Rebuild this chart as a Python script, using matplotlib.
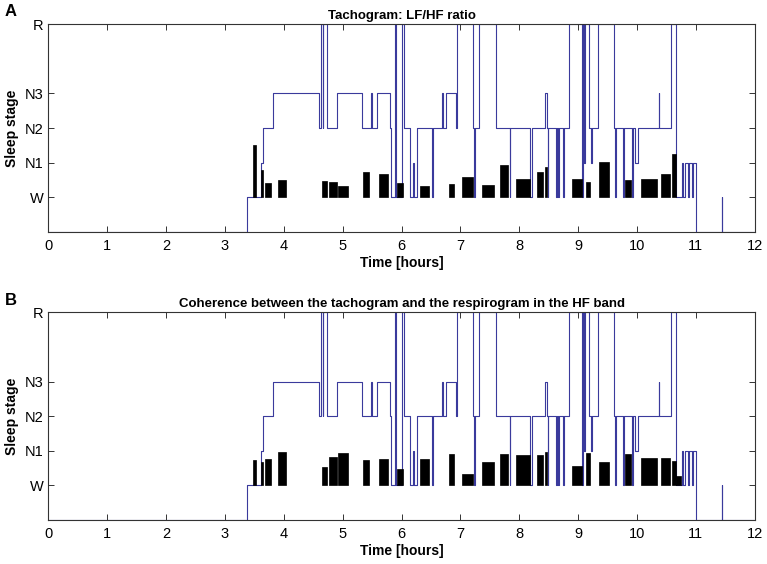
import matplotlib
matplotlib.use("Agg")
import matplotlib.pyplot as plt

plt.rcParams['font.family'] = ['Liberation Sans', 'DejaVu Sans']

# hypnogram: change times (hours) and the stage that starts there
hyp_t = [0, 3.38, 3.62, 3.65, 3.81, 4.60, 4.63, 4.66, 4.67, 4.74, 4.91,
         5.33, 5.48, 5.50, 5.59, 5.80, 5.82, 5.89, 5.91, 6.01, 6.04,
         6.14, 6.19, 6.21, 6.27, 6.52, 6.53, 6.68, 6.70, 6.76, 6.92,
         6.95, 7.22, 7.23, 7.25, 7.31, 7.61, 7.84, 7.85, 8.19, 8.22,
         8.43, 8.47, 8.48, 8.49, 8.63, 8.64, 8.66, 8.68, 8.74, 8.76,
         8.85, 9.06, 9.08, 9.10, 9.12, 9.19, 9.22, 9.24, 9.33, 9.61,
         9.63, 9.64, 9.76, 9.78, 9.91, 9.93, 9.97, 10.02, 10.37, 10.38,
         10.58, 10.67, 10.77, 10.79, 10.81, 10.86, 10.88, 10.94, 10.95,
         11.01, 11.44, 11.45, 12]
hyp_stage = ['-', 'W', 'N1', 'N2', 'N3', 'N2', 'R', 'N2', 'R', 'N2', 'N3',
             'N2', 'N3', 'N2', 'N3', 'N2', 'W', 'R', 'W', 'R', 'N2',
             'W', 'N1', 'W', 'N2', 'W', 'N2', 'N3', 'N2', 'N3', 'N2',
             'R', 'N2', 'W', 'N2', 'R', 'N2', 'W', 'N2', 'W', 'N2',
             'N3', 'N2', 'W', 'N2', 'W', 'N2', 'W', 'N2', 'W', 'N2',
             'R', 'W', 'R', 'N1', 'R', 'N2', 'N1', 'N2', 'R', 'N2',
             'W', 'N2', 'W', 'N2', 'W', 'N2', 'N1', 'N2', 'N3', 'N2',
             'R', 'W', 'N1', 'W', 'N1', 'W', 'N1', 'W', 'N1',
             '-', 'W', '-', '-']
stage_level = {'-': -1, 'W': 0, 'N1': 1, 'N2': 2, 'N3': 3, 'R': 5}

# bars: start / end time (hours)
bar_start = [3.47, 3.62, 3.68, 3.91, 4.65, 4.77, 4.92, 5.35, 5.61, 5.93,
             6.31, 6.80, 7.02, 7.37, 7.67, 7.94, 8.30, 8.43, 8.90, 9.14,
             9.36, 9.80, 10.06, 10.41, 10.59, 10.67]
bar_end = [3.53, 3.65, 3.78, 4.03, 4.73, 4.90, 5.09, 5.45, 5.77, 6.02,
           6.46, 6.89, 7.21, 7.57, 7.81, 8.18, 8.40, 8.47, 9.06, 9.21,
           9.52, 9.89, 10.34, 10.56, 10.66, 10.75]
lfhf = [1.51, 0.80, 0.40, 0.49, 0.47, 0.44, 0.33, 0.74, 0.66, 0.41,
        0.33, 0.38, 0.57, 0.36, 0.94, 0.52, 0.72, 0.86, 0.52, 0.43,
        1.01, 0.50, 0.54, 0.66, 1.26, 0.0]
coherence = [0.74, 0.67, 0.75, 0.96, 0.54, 0.82, 0.94, 0.74, 0.76, 0.47,
             0.76, 0.91, 0.33, 0.67, 0.90, 0.87, 0.88, 0.96, 0.56, 0.94,
             0.68, 0.92, 0.78, 0.79, 0.71, 0.28]

titles = ['Tachogram: LF/HF ratio',
          'Coherence between the tachogram and the respirogram in the HF band']
panels = ['A', 'B']
stage_ticks = ['W', 'N1', 'N2', 'N3', 'R']

fig = plt.figure(figsize=(7.67, 5.64), dpi=100)
boxes = [[0.063, 0.589, 0.921, 0.368], [0.063, 0.078, 0.921, 0.368]]
panel_y = [0.979, 0.468]

for box, vals, title, panel, py in zip(boxes, [lfhf, coherence], titles, panels, panel_y):
    ax = fig.add_axes(box)
    ys = [stage_level[s] for s in hyp_stage]
    ax.step(hyp_t, ys, where='post', color='#3a3a9c', lw=0.8, zorder=2)
    for s, e, v in zip(bar_start, bar_end, vals):
        if v > 0:
            ax.bar(s, v, width=e - s, align='edge', bottom=0, color='black',
                   edgecolor='black', lw=0.5, zorder=3)
    ax.set_xlim(0, 12)
    ax.set_ylim(-1, 5)
    ax.set_xticks(range(13))
    ax.set_yticks([stage_level[s] for s in stage_ticks])
    ax.set_yticklabels(stage_ticks)
    ax.tick_params(direction='in', top=True, right=True, length=4,
                   width=0.7, labelsize=10.5, colors='#333333', labelcolor='black')
    ax.tick_params(axis='x', pad=5)
    for sp in ax.spines.values():
        sp.set_color('#333333')
        sp.set_linewidth(0.8)
    ax.set_title(title, fontsize=9.5, fontweight='bold', pad=4)
    ax.set_xlabel('Time [hours]', fontsize=10, fontweight='bold', labelpad=2)
    ax.set_ylabel('Sleep stage', fontsize=10, fontweight='bold', labelpad=4)
    fig.text(0.006, py, panel, fontsize=12, fontweight='bold',
             ha='left', va='center')

fig.savefig('out.png', dpi=100)
